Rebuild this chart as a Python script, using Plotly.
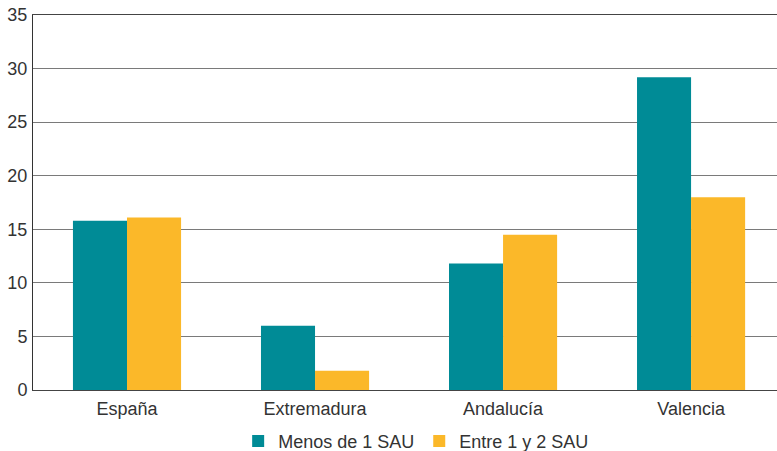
import plotly.graph_objects as go

categories = ["España", "Extremadura", "Andalucía", "Valencia"]
menos_1_sau = [15.8, 6.0, 11.8, 29.2]
entre_1_2_sau = [16.1, 1.8, 14.5, 18.0]
series_names = ["Menos de 1 SAU", "Entre 1 y 2 SAU"]
y_ticks = [0, 5, 10, 15, 20, 25, 30, 35]

TEAL = "#008B96"
YELLOW = "#FBB829"
FONT = dict(family="Liberation Sans, Arial, sans-serif", size=18, color="#333333")

fig = go.Figure()
for name, vals, col in [(series_names[0], menos_1_sau, TEAL), (series_names[1], entre_1_2_sau, YELLOW)]:
    fig.add_trace(go.Bar(x=categories, y=vals, marker=dict(color=col, line=dict(width=0)),
                         showlegend=False, name=name))
for name, col in [(series_names[0], TEAL), (series_names[1], YELLOW)]:
    fig.add_trace(go.Scatter(x=[None], y=[None], mode="markers", name=name,
                             marker=dict(symbol="square", size=15, color=col)))

fig.update_layout(
    width=777, height=451,
    margin=dict(l=33, r=0, t=15, b=61, autoexpand=False),
    paper_bgcolor="white", plot_bgcolor="white",
    font=FONT,
    barmode="group", bargap=0.425, bargroupgap=0,
    showlegend=True,
    legend=dict(orientation="h", x=0.515, xanchor="center", y=-0.137, yanchor="middle",
                font=FONT, itemsizing="constant", traceorder="normal",
                itemwidth=30, tracegroupgap=0),
)
fig.update_xaxes(type="category", range=[-0.5, 3.457], showgrid=False, ticks="",
                 showline=True, linecolor="#444444", linewidth=1, mirror=True,
                 tickfont=FONT, automargin=False, ticklabelstandoff=2)
fig.update_yaxes(range=[0, 35], tickvals=y_ticks, showgrid=True, gridcolor="#7a7a7a",
                 gridwidth=1, showline=True, linecolor="#333333", linewidth=1,
                 zeroline=True, zerolinecolor="#333333", zerolinewidth=1,
                 ticks="", ticklabelstandoff=1, tickfont=FONT, automargin=False)

fig.write_html("out.html", config={"displayModeBar": False},
               post_script="document.body.style.margin='0';document.body.style.overflow='hidden';")
